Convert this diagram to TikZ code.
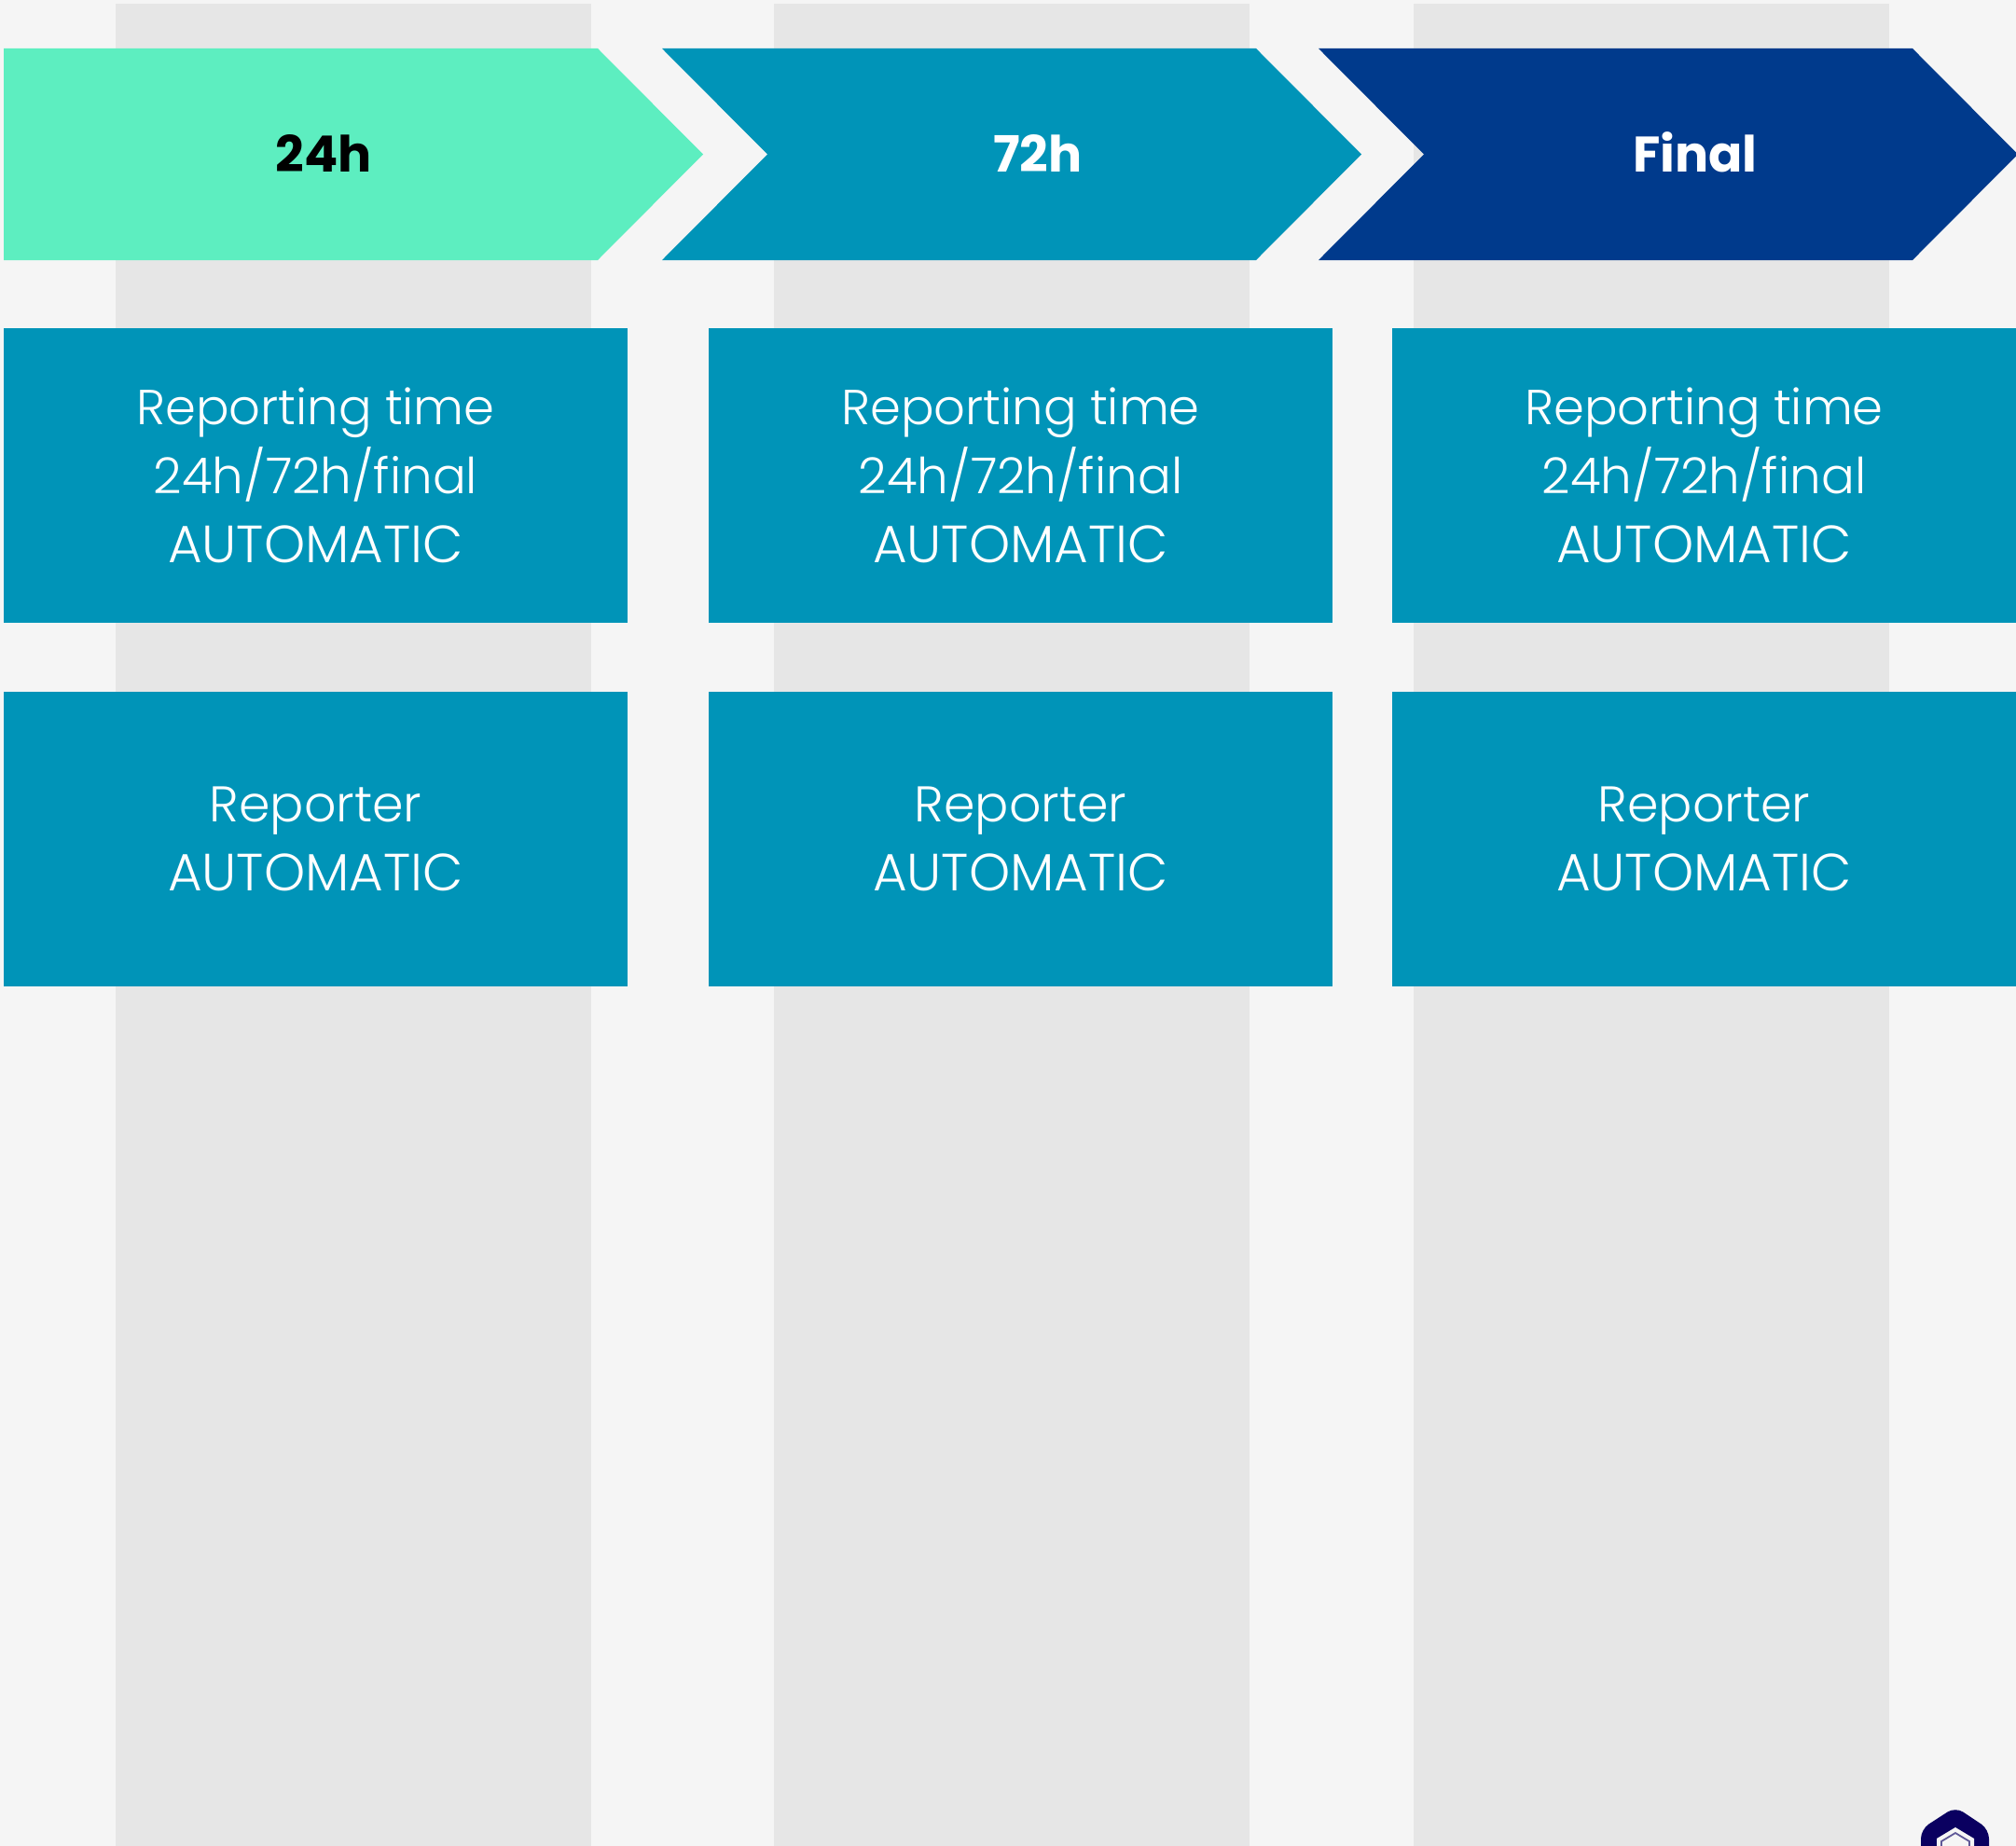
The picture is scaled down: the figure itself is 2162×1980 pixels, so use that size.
\documentclass[tikz,border=0pt]{standalone}
\usepackage{fontspec}
\newfontfamily\lite[Ligatures=NoCommon]{Poppins Light}
\newfontfamily\heavy{Poppins Bold}
\newcommand{\mixsize}{\fontsize{26.4}{37}\selectfont}
\newcommand{\capsize}{\fontsize{28.1}{37}\selectfont}
\newcommand{\reportlines}{{\mixsize Reporting time}\\{\fontsize{26.6}{37}\selectfont 24h/72h/final}\\{\capsize AUTOMATIC}}
\newcommand{\reporterlines}{{\fontsize{26.9}{37}\selectfont Reporter}\\{\capsize AUTOMATIC}}
\definecolor{bgc}{HTML}{F5F5F5}
\definecolor{bandc}{HTML}{E6E6E6}
\definecolor{mint}{HTML}{5DEEC0}
\definecolor{teal}{HTML}{0094B8}
\definecolor{navy}{HTML}{003A8C}
\definecolor{logoc}{HTML}{0A0060}
\tikzset{
  x=0.5pt,y=-0.5pt,
  infobox/.style={fill=teal,text=white,inner sep=0pt,minimum width=334.5pt,minimum height=158pt,align=center,font=\lite\fontsize{27}{37}\selectfont},
  chevlabel/.style={inner sep=0pt,anchor=base,font=\heavy\fontsize{26.8}{30}\selectfont},
  bandrect/.style={fill=bandc},
}
\begin{document}
\begin{tikzpicture}
\useasboundingbox (0,0) rectangle (2162,1980);
\fill[bgc] (0,0) rectangle (2162,1980);
\fill[bandrect] (124,4) rectangle (634,1980);
\fill[bandrect] (830,4) rectangle (1340,1980);
\fill[bandrect] (1516,4) rectangle (2026,1980);
% chevrons
\fill[mint] (4,52) -- (641,52) -- (754,165.5) -- (641,279) -- (4,279) -- cycle;
\fill[teal] (710,52) -- (1347,52) -- (1460,165.5) -- (1347,279) -- (710,279) -- (823,165.5) -- cycle;
\begin{scope}
\clip (0,0) rectangle (2162,1980);
\fill[navy] (1414,52) -- (2051,52) -- (2164,165.5) -- (2051,279) -- (1414,279) -- (1527,165.5) -- cycle;
\end{scope}
\node[chevlabel,text=black] (c1) at (347,184.5) {24h};
\node[chevlabel,text=white] (c2) at (1113,184.5) {72h};
\node[chevlabel,text=white] (c3) at (1818,184.5) {Final};
% boxes
\node[infobox] (a1) at (338.5,510) {\reportlines};
\node[infobox] (a2) at (1094.5,510) {\reportlines};
\node[infobox] (a3) at (1827.5,510) {\reportlines};
\node[infobox] (b1) at (338.5,900) {\reporterlines};
\node[infobox] (b2) at (1094.5,900) {\reporterlines};
\node[infobox] (b3) at (1827.5,900) {\reporterlines};
% logo
\fill[logoc,rounded corners=5] (2097,1938) -- (2133,1962) -- (2133,1990) -- (2060,1990) -- (2060,1962) -- cycle;
\fill[bgc] (2097,1960) -- (2117,1972) -- (2117,1990) -- (2077,1990) -- (2077,1972) -- cycle;
\draw[logoc!65,line width=0.9pt] (2082,1990) -- (2082,1975) -- (2097,1966) -- (2112,1975) -- (2112,1990);
\end{tikzpicture}
\end{document}
